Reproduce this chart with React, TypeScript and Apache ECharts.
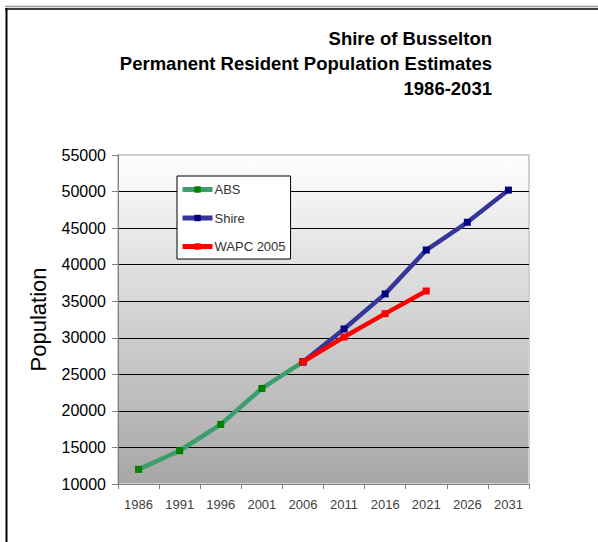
import React, { useEffect, useRef } from "react";
import * as echarts from "echarts";

const years = ["1986", "1991", "1996", "2001", "2006", "2011", "2016", "2021", "2026", "2031"];
const absValues = [12000, 14550, 18150, 23070, 26700, null, null, null, null, null];
const shireValues = [null, null, null, null, 26700, 31200, 36000, 42000, 45800, 50200];
const wapcValues = [null, null, null, null, 26700, 30100, 33300, 36400, null, null];
const titleLines = ["Shire of Busselton", "Permanent Resident Population Estimates", "1986-2031"];

const FONT = "'Liberation Sans', Arial, sans-serif";

export default function App() {
  const ref = useRef<HTMLDivElement>(null);
  useEffect(() => {
    if (!ref.current) return;
    const chart = echarts.init(ref.current, null, { renderer: "svg" });
    const splitColors = ["#808080", "#000", "#000", "#000", "#000", "#000", "#000", "#000", "#000", "#d0d0d0"];
    const titleY = [38, 63, 88];
    chart.setOption({
      animation: false,
      backgroundColor: "#ffffff",
      textStyle: { fontFamily: FONT },
      legend: {
        orient: "vertical",
        left: 177,
        top: 176,
        backgroundColor: "#ffffff",
        borderColor: "#000",
        borderWidth: 1,
        borderRadius: 0,
        padding: [7, 5, 6, 3],
        itemGap: 15.5,
        itemWidth: 30,
        itemHeight: 8,
        lineStyle: { width: 5 },
        textStyle: { fontFamily: FONT, fontSize: 13, color: "#333", padding: [0, 0, 0, -3] },
        data: ["ABS", "Shire", "WAPC 2005"],
      },
      grid: {
        left: 118,
        top: 155,
        width: 411,
        height: 329,
        show: true,
        borderColor: "#d0d0d0",
        borderWidth: 2,
        backgroundColor: new echarts.graphic.LinearGradient(0, 0, 0, 1, [
          { offset: 0, color: "#fefefe" },
          { offset: 1, color: "#a6a6a6" },
        ]),
      },
      xAxis: {
        type: "category",
        data: years,
        boundaryGap: true,
        axisLine: { lineStyle: { color: "#808080", width: 1 } },
        axisTick: { show: true, length: 5, lineStyle: { color: "#808080" } },
        axisLabel: { fontFamily: FONT, fontSize: 13, color: "#404040", margin: 14 },
      },
      yAxis: {
        type: "value",
        min: 10000,
        max: 55000,
        interval: 5000,
        name: "Population",
        nameLocation: "middle",
        nameRotate: 90,
        nameGap: 69,
        nameTextStyle: { fontFamily: FONT, fontSize: 22, color: "#000" },
        axisLine: { show: true, lineStyle: { color: "#808080", width: 1 } },
        axisTick: { show: true, length: 6, lineStyle: { color: "#808080" } },
        axisLabel: {
          fontFamily: FONT,
          fontSize: 16,
          color: "#000",
          margin: 12,
          formatter: (v: number) => String(v),
        },
        splitLine: { show: true, lineStyle: { color: splitColors, width: 1 } },
      },
      series: [
        {
          name: "ABS",
          type: "line",
          data: absValues,
          symbol: "rect",
          symbolSize: 7,
          showAllSymbol: true,
          lineStyle: { color: "#3c9e6c", width: 4.5 },
          itemStyle: { color: "#008000" },
          z: 2,
        },
        {
          name: "Shire",
          type: "line",
          data: shireValues,
          symbol: "rect",
          symbolSize: 7,
          showAllSymbol: true,
          lineStyle: { color: "#35359a", width: 4.5 },
          itemStyle: { color: "#000080" },
          z: 3,
        },
        {
          name: "WAPC 2005",
          type: "line",
          data: wapcValues,
          symbol: "rect",
          symbolSize: 7,
          showAllSymbol: true,
          lineStyle: { color: "#ff0000", width: 4.5 },
          itemStyle: { color: "#ff0000" },
          z: 4,
        },
      ],
      graphic: [
        { type: "line", shape: { x1: 5, y1: 6.5, x2: 598, y2: 6.5 }, style: { stroke: "#999", lineWidth: 1.5 } },
        { type: "line", shape: { x1: 5, y1: 9, x2: 598, y2: 9 }, style: { stroke: "#000", lineWidth: 1.5 } },
        { type: "line", shape: { x1: 6.5, y1: 8, x2: 6.5, y2: 542 }, style: { stroke: "#000", lineWidth: 2 } },
        ...titleLines.map((t, i) => ({
          type: "text",
          x: 492,
          y: titleY[i],
          style: {
            text: t,
            fontFamily: FONT,
            fontSize: 18.5,
            fontWeight: "bold",
            fill: "#000",
            textAlign: "right",
            textVerticalAlign: "middle",
          },
        })),
      ],
    });
    return () => chart.dispose();
  }, []);
  return (
    <div
      ref={ref}
      style={{ position: "absolute", left: 0, top: 0, width: 598, height: 542 }}
    />
  );
}
